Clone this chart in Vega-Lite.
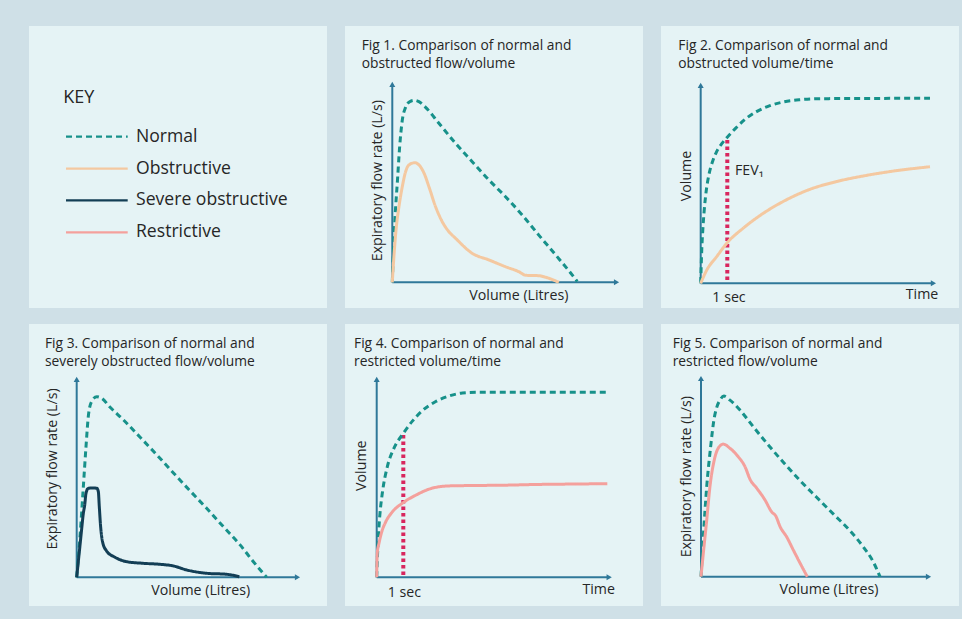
{
  "$schema": "https://vega.github.io/schema/vega-lite/v6.json",
  "background": "#cfe0e7",
  "padding": {"left": 29, "top": 26, "right": 3, "bottom": 13},
  "config": {
    "view": {"fill": "#e5f3f5", "stroke": null},
    "font": "Open Sans",
    "legend": {"disable": true},
    "text": {"color": "#262626"}
  },
  "datasets": {
    "key": [
      {"series": "Normal"},
      {"series": "Obstructive"},
      {"series": "Severe obstructive"},
      {"series": "Restrictive"}
    ],
    "fig1": [
      {"series": "Normal", "volume": 0, "flow": 0},
      {"series": "Normal", "volume": 0.03, "flow": 1.45},
      {"series": "Normal", "volume": 0.07, "flow": 3.1},
      {"series": "Normal", "volume": 0.14, "flow": 5.1},
      {"series": "Normal", "volume": 0.2, "flow": 6.8},
      {"series": "Normal", "volume": 0.27, "flow": 8.1},
      {"series": "Normal", "volume": 0.36, "flow": 8.75},
      {"series": "Normal", "volume": 0.47, "flow": 9.03},
      {"series": "Normal", "volume": 0.59, "flow": 9.1},
      {"series": "Normal", "volume": 0.72, "flow": 9.03},
      {"series": "Normal", "volume": 0.9, "flow": 8.75},
      {"series": "Normal", "volume": 1.26, "flow": 7.95},
      {"series": "Normal", "volume": 1.71, "flow": 6.95},
      {"series": "Normal", "volume": 2.16, "flow": 6.03},
      {"series": "Normal", "volume": 2.61, "flow": 5.12},
      {"series": "Normal", "volume": 3.06, "flow": 4.28},
      {"series": "Normal", "volume": 3.51, "flow": 3.37},
      {"series": "Normal", "volume": 3.96, "flow": 2.36},
      {"series": "Normal", "volume": 4.42, "flow": 1.36},
      {"series": "Normal", "volume": 4.78, "flow": 0.56},
      {"series": "Normal", "volume": 5.0, "flow": 0.04},
      {"series": "Obstructive", "volume": 0, "flow": 0},
      {"series": "Obstructive", "volume": 0.05, "flow": 1.45},
      {"series": "Obstructive", "volume": 0.11, "flow": 2.78},
      {"series": "Obstructive", "volume": 0.18, "flow": 3.78},
      {"series": "Obstructive", "volume": 0.27, "flow": 4.78},
      {"series": "Obstructive", "volume": 0.36, "flow": 5.53},
      {"series": "Obstructive", "volume": 0.45, "flow": 5.87},
      {"series": "Obstructive", "volume": 0.61, "flow": 5.98},
      {"series": "Obstructive", "volume": 0.72, "flow": 5.87},
      {"series": "Obstructive", "volume": 0.86, "flow": 5.45},
      {"series": "Obstructive", "volume": 0.99, "flow": 4.78},
      {"series": "Obstructive", "volume": 1.17, "flow": 3.78},
      {"series": "Obstructive", "volume": 1.35, "flow": 3.03},
      {"series": "Obstructive", "volume": 1.53, "flow": 2.53},
      {"series": "Obstructive", "volume": 1.71, "flow": 2.2},
      {"series": "Obstructive", "volume": 2.16, "flow": 1.45},
      {"series": "Obstructive", "volume": 2.61, "flow": 1.12},
      {"series": "Obstructive", "volume": 3.06, "flow": 0.78},
      {"series": "Obstructive", "volume": 3.42, "flow": 0.53},
      {"series": "Obstructive", "volume": 3.61, "flow": 0.35},
      {"series": "Obstructive", "volume": 3.96, "flow": 0.33},
      {"series": "Obstructive", "volume": 4.15, "flow": 0.25},
      {"series": "Obstructive", "volume": 4.5, "flow": 0}
    ],
    "fig2": [
      {"series": "Normal", "time": 0, "volume": 0},
      {"series": "Normal", "time": 0.04, "volume": 0.9},
      {"series": "Normal", "time": 0.08, "volume": 1.45},
      {"series": "Normal", "time": 0.13, "volume": 1.95},
      {"series": "Normal", "time": 0.2, "volume": 2.45},
      {"series": "Normal", "time": 0.3, "volume": 2.9},
      {"series": "Normal", "time": 0.45, "volume": 3.3},
      {"series": "Normal", "time": 0.6, "volume": 3.56},
      {"series": "Normal", "time": 0.8, "volume": 3.78},
      {"series": "Normal", "time": 1.0, "volume": 3.95},
      {"series": "Normal", "time": 1.3, "volume": 4.18},
      {"series": "Normal", "time": 1.7, "volume": 4.45},
      {"series": "Normal", "time": 2.1, "volume": 4.64},
      {"series": "Normal", "time": 2.6, "volume": 4.8},
      {"series": "Normal", "time": 3.1, "volume": 4.9},
      {"series": "Normal", "time": 3.7, "volume": 4.96},
      {"series": "Normal", "time": 4.6, "volume": 4.99},
      {"series": "Normal", "time": 8.62, "volume": 5.0},
      {"series": "Obstructive", "time": 0, "volume": 0},
      {"series": "Obstructive", "time": 0.23, "volume": 0.36},
      {"series": "Obstructive", "time": 0.6, "volume": 0.72},
      {"series": "Obstructive", "time": 1.0, "volume": 1.1},
      {"series": "Obstructive", "time": 1.6, "volume": 1.49},
      {"series": "Obstructive", "time": 2.35, "volume": 1.89},
      {"series": "Obstructive", "time": 3.1, "volume": 2.21},
      {"series": "Obstructive", "time": 4.11, "volume": 2.54},
      {"series": "Obstructive", "time": 5.11, "volume": 2.75},
      {"series": "Obstructive", "time": 6.11, "volume": 2.9},
      {"series": "Obstructive", "time": 7.12, "volume": 3.02},
      {"series": "Obstructive", "time": 8.62, "volume": 3.15}
    ],
    "fig3": [
      {"series": "Normal", "volume": 0, "flow": 0},
      {"series": "Normal", "volume": 0.087, "flow": 2.03},
      {"series": "Normal", "volume": 0.175, "flow": 4.53},
      {"series": "Normal", "volume": 0.245, "flow": 6.53},
      {"series": "Normal", "volume": 0.305, "flow": 8.03},
      {"series": "Normal", "volume": 0.39, "flow": 8.78},
      {"series": "Normal", "volume": 0.53, "flow": 9.03},
      {"series": "Normal", "volume": 0.66, "flow": 8.95},
      {"series": "Normal", "volume": 0.88, "flow": 8.5},
      {"series": "Normal", "volume": 1.23, "flow": 7.87},
      {"series": "Normal", "volume": 1.67, "flow": 7.0},
      {"series": "Normal", "volume": 2.11, "flow": 6.12},
      {"series": "Normal", "volume": 2.54, "flow": 5.23},
      {"series": "Normal", "volume": 2.98, "flow": 4.33},
      {"series": "Normal", "volume": 3.42, "flow": 3.45},
      {"series": "Normal", "volume": 3.86, "flow": 2.53},
      {"series": "Normal", "volume": 4.3, "flow": 1.62},
      {"series": "Normal", "volume": 4.65, "flow": 0.78},
      {"series": "Normal", "volume": 5.0, "flow": 0},
      {"series": "Severe obstructive", "volume": 0, "flow": 0},
      {"series": "Severe obstructive", "volume": 0.087, "flow": 1.6},
      {"series": "Severe obstructive", "volume": 0.13, "flow": 2.4},
      {"series": "Severe obstructive", "volume": 0.175, "flow": 3.2},
      {"series": "Severe obstructive", "volume": 0.21, "flow": 3.6},
      {"series": "Severe obstructive", "volume": 0.245, "flow": 4.2},
      {"series": "Severe obstructive", "volume": 0.305, "flow": 4.45},
      {"series": "Severe obstructive", "volume": 0.42, "flow": 4.47},
      {"series": "Severe obstructive", "volume": 0.53, "flow": 4.45},
      {"series": "Severe obstructive", "volume": 0.57, "flow": 4.28},
      {"series": "Severe obstructive", "volume": 0.595, "flow": 3.53},
      {"series": "Severe obstructive", "volume": 0.63, "flow": 2.53},
      {"series": "Severe obstructive", "volume": 0.68, "flow": 1.78},
      {"series": "Severe obstructive", "volume": 0.785, "flow": 1.32},
      {"series": "Severe obstructive", "volume": 1.01, "flow": 1.0},
      {"series": "Severe obstructive", "volume": 1.32, "flow": 0.78},
      {"series": "Severe obstructive", "volume": 1.75, "flow": 0.7},
      {"series": "Severe obstructive", "volume": 2.19, "flow": 0.65},
      {"series": "Severe obstructive", "volume": 2.54, "flow": 0.57},
      {"series": "Severe obstructive", "volume": 2.89, "flow": 0.37},
      {"series": "Severe obstructive", "volume": 3.42, "flow": 0.2},
      {"series": "Severe obstructive", "volume": 3.95, "flow": 0.15},
      {"series": "Severe obstructive", "volume": 4.28, "flow": 0.03}
    ],
    "fig4": [
      {"series": "Normal", "time": 0, "volume": 0},
      {"series": "Normal", "time": 0.03, "volume": 0.6},
      {"series": "Normal", "time": 0.07, "volume": 1.2},
      {"series": "Normal", "time": 0.12, "volume": 1.7},
      {"series": "Normal", "time": 0.21, "volume": 2.27},
      {"series": "Normal", "time": 0.4, "volume": 2.99},
      {"series": "Normal", "time": 0.65, "volume": 3.49},
      {"series": "Normal", "time": 1.0, "volume": 3.89},
      {"series": "Normal", "time": 1.34, "volume": 4.22},
      {"series": "Normal", "time": 1.71, "volume": 4.5},
      {"series": "Normal", "time": 2.22, "volume": 4.75},
      {"series": "Normal", "time": 2.72, "volume": 4.9},
      {"series": "Normal", "time": 3.22, "volume": 4.98},
      {"series": "Normal", "time": 3.85, "volume": 5.0},
      {"series": "Normal", "time": 8.67, "volume": 5.0},
      {"series": "Restrictive", "time": 0, "volume": 0},
      {"series": "Restrictive", "time": 0.02, "volume": 0.65},
      {"series": "Restrictive", "time": 0.086, "volume": 0.92},
      {"series": "Restrictive", "time": 0.19, "volume": 1.23},
      {"series": "Restrictive", "time": 0.34, "volume": 1.5},
      {"series": "Restrictive", "time": 0.59, "volume": 1.77},
      {"series": "Restrictive", "time": 1.0, "volume": 2.02},
      {"series": "Restrictive", "time": 1.47, "volume": 2.22},
      {"series": "Restrictive", "time": 2.09, "volume": 2.41},
      {"series": "Restrictive", "time": 2.72, "volume": 2.47},
      {"series": "Restrictive", "time": 3.59, "volume": 2.48},
      {"series": "Restrictive", "time": 4.85, "volume": 2.49},
      {"series": "Restrictive", "time": 6.1, "volume": 2.51},
      {"series": "Restrictive", "time": 7.35, "volume": 2.52},
      {"series": "Restrictive", "time": 8.67, "volume": 2.53}
    ],
    "fig5": [
      {"series": "Normal", "volume": 0, "flow": 0},
      {"series": "Normal", "volume": 0.065, "flow": 2.0},
      {"series": "Normal", "volume": 0.16, "flow": 4.5},
      {"series": "Normal", "volume": 0.27, "flow": 6.5},
      {"series": "Normal", "volume": 0.36, "flow": 7.83},
      {"series": "Normal", "volume": 0.44, "flow": 8.47},
      {"series": "Normal", "volume": 0.53, "flow": 8.83},
      {"series": "Normal", "volume": 0.64, "flow": 9.03},
      {"series": "Normal", "volume": 0.81, "flow": 8.83},
      {"series": "Normal", "volume": 1.09, "flow": 8.33},
      {"series": "Normal", "volume": 1.46, "flow": 7.5},
      {"series": "Normal", "volume": 1.84, "flow": 6.67},
      {"series": "Normal", "volume": 2.3, "flow": 5.72},
      {"series": "Normal", "volume": 2.77, "flow": 4.8},
      {"series": "Normal", "volume": 3.23, "flow": 3.97},
      {"series": "Normal", "volume": 3.7, "flow": 3.13},
      {"series": "Normal", "volume": 4.16, "flow": 2.3},
      {"series": "Normal", "volume": 4.53, "flow": 1.5},
      {"series": "Normal", "volume": 4.81, "flow": 0.75},
      {"series": "Normal", "volume": 5.0, "flow": 0},
      {"series": "Restrictive", "volume": 0, "flow": 0},
      {"series": "Restrictive", "volume": 0.065, "flow": 1.17},
      {"series": "Restrictive", "volume": 0.16, "flow": 2.83},
      {"series": "Restrictive", "volume": 0.25, "flow": 4.5},
      {"series": "Restrictive", "volume": 0.37, "flow": 5.83},
      {"series": "Restrictive", "volume": 0.48, "flow": 6.42},
      {"series": "Restrictive", "volume": 0.62, "flow": 6.63},
      {"series": "Restrictive", "volume": 0.81, "flow": 6.42},
      {"series": "Restrictive", "volume": 1.04, "flow": 6.0},
      {"series": "Restrictive", "volume": 1.23, "flow": 5.5},
      {"series": "Restrictive", "volume": 1.37, "flow": 4.87},
      {"series": "Restrictive", "volume": 1.56, "flow": 4.42},
      {"series": "Restrictive", "volume": 1.79, "flow": 3.83},
      {"series": "Restrictive", "volume": 1.97, "flow": 3.25},
      {"series": "Restrictive", "volume": 2.09, "flow": 3.03},
      {"series": "Restrictive", "volume": 2.21, "flow": 2.5},
      {"series": "Restrictive", "volume": 2.39, "flow": 2.0},
      {"series": "Restrictive", "volume": 2.58, "flow": 1.33},
      {"series": "Restrictive", "volume": 2.77, "flow": 0.67},
      {"series": "Restrictive", "volume": 2.97, "flow": 0}
    ]
  },
  "vconcat": [
    {
      "hconcat": [
        {
          "width": 298, "height": 282,
          "layer": [
            {"data": {"values": [{}]}, "mark": {"type": "text", "text": "KEY", "align": "left", "baseline": "middle", "fontSize": 18, "dy": -6.5},
             "encoding": {"x": {"datum": 1.151, "type": "quantitative", "scale": {"domain": [0, 10], "nice": false, "zero": false}, "axis": null},
                          "y": {"datum": "KEY", "type": "nominal", "scale": {"domain": ["KEY", "Normal", "Obstructive", "Severe obstructive", "Restrictive"], "range": [62.85, 222.25]}, "axis": null}}},
            {"data": {"name": "key"}, "mark": {"type": "rule", "strokeWidth": 2.2},
             "encoding": {"x": {"datum": 1.242, "type": "quantitative", "axis": null}, "x2": {"datum": 3.312},
                          "y": {"field": "series", "type": "nominal", "axis": null},
                          "color": {"field": "series", "type": "nominal", "scale": {"domain": ["Normal", "Obstructive", "Severe obstructive", "Restrictive"], "range": ["#17918a", "#f4c8a0", "#133e55", "#f4a09c"]}, "legend": null},
                          "strokeDash": {"field": "series", "type": "nominal", "scale": {"domain": ["Normal", "Obstructive", "Severe obstructive", "Restrictive"], "range": [[6, 4], [1, 0], [1, 0], [1, 0]]}, "legend": null}}},
            {"data": {"name": "key"}, "mark": {"type": "text", "align": "left", "baseline": "middle", "fontSize": 17.6},
             "encoding": {"x": {"datum": 3.591, "type": "quantitative", "axis": null},
                          "y": {"field": "series", "type": "nominal", "axis": null},
                          "text": {"field": "series"}}}
          ]
        },
        {
          "width": 298, "height": 282,
          "layer": [
            {"data": {"values": [{}]}, "mark": {"type": "rule", "color": "#2f7899", "strokeWidth": 2},
             "encoding": {"x": {"datum": 0, "type": "quantitative", "scale": {"domain": [-1.278, 6.776], "nice": false, "zero": false}, "axis": null},
                          "y": {"datum": 0, "type": "quantitative", "scale": {"domain": [-1.285, 12.815], "nice": false, "zero": false}, "axis": null},
                          "x2": {"datum": 6.06}}},
            {"data": {"values": [{}]}, "mark": {"type": "rule", "color": "#2f7899", "strokeWidth": 2},
             "encoding": {"x": {"datum": 0, "axis": null}, "y": {"datum": 0, "axis": null}, "y2": {"datum": 9.9}}},
            {"data": {"values": [{}]}, "mark": {"type": "point", "shape": "triangle-right", "filled": true, "size": 36, "color": "#2f7899", "opacity": 1},
             "encoding": {"x": {"datum": 6.06, "axis": null}, "y": {"datum": 0, "axis": null}}},
            {"data": {"values": [{}]}, "mark": {"type": "point", "shape": "triangle-up", "filled": true, "size": 36, "color": "#2f7899", "opacity": 1},
             "encoding": {"x": {"datum": 0, "axis": null}, "y": {"datum": 9.9, "axis": null}}},
            {"data": {"name": "fig1"}, "mark": {"type": "line", "strokeWidth": 3, "interpolate": "monotone"},
             "encoding": {"x": {"field": "volume", "type": "quantitative", "axis": null},
                          "y": {"field": "flow", "type": "quantitative", "axis": null},
                          "color": {"field": "series", "type": "nominal", "scale": {"domain": ["Normal", "Obstructive", "Severe obstructive", "Restrictive"], "range": ["#17918a", "#f4c8a0", "#133e55", "#f4a09c"]}, "legend": null},
                          "strokeDash": {"field": "series", "type": "nominal", "scale": {"domain": ["Normal", "Obstructive", "Severe obstructive", "Restrictive"], "range": [[6, 4], [1, 0], [1, 0], [1, 0]]}, "legend": null}}},
            {"data": {"values": [{}]}, "mark": {"type": "text", "text": ["Fig 1. Comparison of normal and", "obstructed flow/volume"], "align": "left", "baseline": "top", "fontSize": 13.8, "lineHeight": 17.5},
             "encoding": {"x": {"datum": -0.827, "axis": null}, "y": {"datum": 12.16, "axis": null}}},
            {"data": {"values": [{}]}, "mark": {"type": "text", "text": "Expiratory flow rate (L/s)", "angle": 270, "align": "center", "baseline": "middle", "fontSize": 14.2},
             "encoding": {"x": {"datum": -0.378, "axis": null}, "y": {"datum": 5.08, "axis": null}}},
            {"data": {"values": [{}]}, "mark": {"type": "text", "text": "Volume (Litres)", "align": "center", "baseline": "middle", "fontSize": 14.2},
             "encoding": {"x": {"datum": 3.42, "axis": null}, "y": {"datum": -0.685, "axis": null}}}
          ]
        },
        {
          "width": 298, "height": 282,
          "layer": [
            {"data": {"values": [{}]}, "mark": {"type": "rule", "color": "#2f7899", "strokeWidth": 2},
             "encoding": {"x": {"datum": 0, "type": "quantitative", "scale": {"domain": [-1.492, 9.711], "nice": false, "zero": false}, "axis": null},
                          "y": {"datum": 0, "type": "quantitative", "scale": {"domain": [-0.668, 6.954], "nice": false, "zero": false}, "axis": null},
                          "x2": {"datum": 8.75}}},
            {"data": {"values": [{}]}, "mark": {"type": "rule", "color": "#2f7899", "strokeWidth": 2},
             "encoding": {"x": {"datum": 0, "axis": null}, "y": {"datum": 0, "axis": null}, "y2": {"datum": 5.35}}},
            {"data": {"values": [{}]}, "mark": {"type": "point", "shape": "triangle-right", "filled": true, "size": 36, "color": "#2f7899", "opacity": 1},
             "encoding": {"x": {"datum": 8.75, "axis": null}, "y": {"datum": 0, "axis": null}}},
            {"data": {"values": [{}]}, "mark": {"type": "point", "shape": "triangle-up", "filled": true, "size": 36, "color": "#2f7899", "opacity": 1},
             "encoding": {"x": {"datum": 0, "axis": null}, "y": {"datum": 5.35, "axis": null}}},
            {"data": {"values": [{}]}, "mark": {"type": "rule", "color": "#d8265e", "strokeWidth": 4, "strokeDash": [3.5, 3]},
             "encoding": {"x": {"datum": 1, "axis": null}, "y": {"datum": 0.09, "axis": null}, "y2": {"datum": 3.95}}},
            {"data": {"name": "fig2"}, "mark": {"type": "line", "strokeWidth": 3, "interpolate": "monotone"},
             "encoding": {"x": {"field": "time", "type": "quantitative", "axis": null},
                          "y": {"field": "volume", "type": "quantitative", "axis": null},
                          "color": {"field": "series", "type": "nominal", "scale": {"domain": ["Normal", "Obstructive", "Severe obstructive", "Restrictive"], "range": ["#17918a", "#f4c8a0", "#133e55", "#f4a09c"]}, "legend": null},
                          "strokeDash": {"field": "series", "type": "nominal", "scale": {"domain": ["Normal", "Obstructive", "Severe obstructive", "Restrictive"], "range": [[6, 4], [1, 0], [1, 0], [1, 0]]}, "legend": null}}},
            {"data": {"values": [{}]}, "mark": {"type": "text", "text": ["Fig 2. Comparison of normal and", "obstructed volume/time"], "align": "left", "baseline": "top", "fontSize": 13.8, "lineHeight": 17.5},
             "encoding": {"x": {"datum": -0.842, "axis": null}, "y": {"datum": 6.6, "axis": null}}},
            {"data": {"values": [{}]}, "mark": {"type": "text", "text": "Volume", "angle": 270, "align": "center", "baseline": "middle", "fontSize": 14.2},
             "encoding": {"x": {"datum": -0.526, "axis": null}, "y": {"datum": 2.9, "axis": null}}},
            {"data": {"values": [{}]}, "mark": {"type": "text", "text": "1 sec", "align": "center", "baseline": "middle", "fontSize": 14.2},
             "encoding": {"x": {"datum": 1.064, "axis": null}, "y": {"datum": -0.405, "axis": null}}},
            {"data": {"values": [{}]}, "mark": {"type": "text", "text": "Time", "align": "center", "baseline": "middle", "fontSize": 14.2},
             "encoding": {"x": {"datum": 8.32, "axis": null}, "y": {"datum": -0.316, "axis": null}}},
            {"data": {"values": [{}]}, "mark": {"type": "text", "text": "FEV₁", "align": "left", "baseline": "middle", "fontSize": 14.2},
             "encoding": {"x": {"datum": 1.29, "axis": null}, "y": {"datum": 3.04, "axis": null}}}
          ]
        }
      ],
      "spacing": 18
    },
    {
      "hconcat": [
        {
          "width": 298, "height": 282,
          "layer": [
            {"data": {"values": [{}]}, "mark": {"type": "rule", "color": "#2f7899", "strokeWidth": 2},
             "encoding": {"x": {"datum": 0, "type": "quantitative", "scale": {"domain": [-1.255, 6.587], "nice": false, "zero": false}, "axis": null},
                          "y": {"datum": 0, "type": "quantitative", "scale": {"domain": [-1.435, 12.665], "nice": false, "zero": false}, "axis": null},
                          "x2": {"datum": 5.81}}},
            {"data": {"values": [{}]}, "mark": {"type": "rule", "color": "#2f7899", "strokeWidth": 2},
             "encoding": {"x": {"datum": 0, "axis": null}, "y": {"datum": 0, "axis": null}, "y2": {"datum": 9.9}}},
            {"data": {"values": [{}]}, "mark": {"type": "point", "shape": "triangle-right", "filled": true, "size": 36, "color": "#2f7899", "opacity": 1},
             "encoding": {"x": {"datum": 5.81, "axis": null}, "y": {"datum": 0, "axis": null}}},
            {"data": {"values": [{}]}, "mark": {"type": "point", "shape": "triangle-up", "filled": true, "size": 36, "color": "#2f7899", "opacity": 1},
             "encoding": {"x": {"datum": 0, "axis": null}, "y": {"datum": 9.9, "axis": null}}},
            {"data": {"name": "fig3"}, "mark": {"type": "line", "strokeWidth": 3, "interpolate": "monotone"},
             "encoding": {"x": {"field": "volume", "type": "quantitative", "axis": null},
                          "y": {"field": "flow", "type": "quantitative", "axis": null},
                          "color": {"field": "series", "type": "nominal", "scale": {"domain": ["Normal", "Obstructive", "Severe obstructive", "Restrictive"], "range": ["#17918a", "#f4c8a0", "#133e55", "#f4a09c"]}, "legend": null},
                          "strokeDash": {"field": "series", "type": "nominal", "scale": {"domain": ["Normal", "Obstructive", "Severe obstructive", "Restrictive"], "range": [[6, 4], [1, 0], [1, 0], [1, 0]]}, "legend": null}}},
            {"data": {"values": [{}]}, "mark": {"type": "text", "text": ["Fig 3. Comparison of normal and", "severely obstructed flow/volume"], "align": "left", "baseline": "top", "fontSize": 13.8, "lineHeight": 17.5},
             "encoding": {"x": {"datum": -0.834, "axis": null}, "y": {"datum": 11.995, "axis": null}}},
            {"data": {"values": [{}]}, "mark": {"type": "text", "text": "Expiratory flow rate (L/s)", "angle": 270, "align": "center", "baseline": "middle", "fontSize": 14.2},
             "encoding": {"x": {"datum": -0.616, "axis": null}, "y": {"datum": 5.415, "axis": null}}},
            {"data": {"values": [{}]}, "mark": {"type": "text", "text": "Volume (Litres)", "align": "center", "baseline": "middle", "fontSize": 14.2},
             "encoding": {"x": {"datum": 3.263, "axis": null}, "y": {"datum": -0.67, "axis": null}}}
          ]
        },
        {
          "width": 298, "height": 282,
          "layer": [
            {"data": {"values": [{}]}, "mark": {"type": "rule", "color": "#2f7899", "strokeWidth": 2},
             "encoding": {"x": {"datum": 0, "type": "quantitative", "scale": {"domain": [-1.192, 10.011], "nice": false, "zero": false}, "axis": null},
                          "y": {"datum": 0, "type": "quantitative", "scale": {"domain": [-0.776, 6.846], "nice": false, "zero": false}, "axis": null},
                          "x2": {"datum": 8.74}}},
            {"data": {"values": [{}]}, "mark": {"type": "rule", "color": "#2f7899", "strokeWidth": 2},
             "encoding": {"x": {"datum": 0, "axis": null}, "y": {"datum": 0, "axis": null}, "y2": {"datum": 5.35}}},
            {"data": {"values": [{}]}, "mark": {"type": "point", "shape": "triangle-right", "filled": true, "size": 36, "color": "#2f7899", "opacity": 1},
             "encoding": {"x": {"datum": 8.74, "axis": null}, "y": {"datum": 0, "axis": null}}},
            {"data": {"values": [{}]}, "mark": {"type": "point", "shape": "triangle-up", "filled": true, "size": 36, "color": "#2f7899", "opacity": 1},
             "encoding": {"x": {"datum": 0, "axis": null}, "y": {"datum": 5.35, "axis": null}}},
            {"data": {"values": [{}]}, "mark": {"type": "rule", "color": "#d8265e", "strokeWidth": 4, "strokeDash": [3.5, 3]},
             "encoding": {"x": {"datum": 1, "axis": null}, "y": {"datum": 0.06, "axis": null}, "y2": {"datum": 3.89}}},
            {"data": {"name": "fig4"}, "mark": {"type": "line", "strokeWidth": 3, "interpolate": "monotone"},
             "encoding": {"x": {"field": "time", "type": "quantitative", "axis": null},
                          "y": {"field": "volume", "type": "quantitative", "axis": null},
                          "color": {"field": "series", "type": "nominal", "scale": {"domain": ["Normal", "Obstructive", "Severe obstructive", "Restrictive"], "range": ["#17918a", "#f4c8a0", "#133e55", "#f4a09c"]}, "legend": null},
                          "strokeDash": {"field": "series", "type": "nominal", "scale": {"domain": ["Normal", "Obstructive", "Severe obstructive", "Restrictive"], "range": [[6, 4], [1, 0], [1, 0], [1, 0]]}, "legend": null}}},
            {"data": {"values": [{}]}, "mark": {"type": "text", "text": ["Fig 4. Comparison of normal and", "restricted volume/time"], "align": "left", "baseline": "top", "fontSize": 13.8, "lineHeight": 17.5},
             "encoding": {"x": {"datum": -0.853, "axis": null}, "y": {"datum": 6.484, "axis": null}}},
            {"data": {"values": [{}]}, "mark": {"type": "text", "text": "Volume", "angle": 270, "align": "center", "baseline": "middle", "fontSize": 14.2},
             "encoding": {"x": {"datum": -0.541, "axis": null}, "y": {"datum": 3.016, "axis": null}}},
            {"data": {"values": [{}]}, "mark": {"type": "text", "text": "1 sec", "align": "center", "baseline": "middle", "fontSize": 14.2},
             "encoding": {"x": {"datum": 1.038, "axis": null}, "y": {"datum": -0.416, "axis": null}}},
            {"data": {"values": [{}]}, "mark": {"type": "text", "text": "Time", "align": "center", "baseline": "middle", "fontSize": 14.2},
             "encoding": {"x": {"datum": 8.346, "axis": null}, "y": {"datum": -0.343, "axis": null}}}
          ]
        },
        {
          "width": 298, "height": 282,
          "layer": [
            {"data": {"values": [{}]}, "mark": {"type": "rule", "color": "#2f7899", "strokeWidth": 2},
             "encoding": {"x": {"datum": 0, "type": "quantitative", "scale": {"domain": [-1.117, 7.207], "nice": false, "zero": false}, "axis": null},
                          "y": {"datum": 0, "type": "quantitative", "scale": {"domain": [-1.465, 12.635], "nice": false, "zero": false}, "axis": null},
                          "x2": {"datum": 6.355}}},
            {"data": {"values": [{}]}, "mark": {"type": "rule", "color": "#2f7899", "strokeWidth": 2},
             "encoding": {"x": {"datum": 0, "axis": null}, "y": {"datum": 0, "axis": null}, "y2": {"datum": 9.91}}},
            {"data": {"values": [{}]}, "mark": {"type": "point", "shape": "triangle-right", "filled": true, "size": 36, "color": "#2f7899", "opacity": 1},
             "encoding": {"x": {"datum": 6.355, "axis": null}, "y": {"datum": 0, "axis": null}}},
            {"data": {"values": [{}]}, "mark": {"type": "point", "shape": "triangle-up", "filled": true, "size": 36, "color": "#2f7899", "opacity": 1},
             "encoding": {"x": {"datum": 0, "axis": null}, "y": {"datum": 9.91, "axis": null}}},
            {"data": {"name": "fig5"}, "mark": {"type": "line", "strokeWidth": 3, "interpolate": "monotone"},
             "encoding": {"x": {"field": "volume", "type": "quantitative", "axis": null},
                          "y": {"field": "flow", "type": "quantitative", "axis": null},
                          "color": {"field": "series", "type": "nominal", "scale": {"domain": ["Normal", "Obstructive", "Severe obstructive", "Restrictive"], "range": ["#17918a", "#f4c8a0", "#133e55", "#f4a09c"]}, "legend": null},
                          "strokeDash": {"field": "series", "type": "nominal", "scale": {"domain": ["Normal", "Obstructive", "Severe obstructive", "Restrictive"], "range": [[6, 4], [1, 0], [1, 0], [1, 0]]}, "legend": null}}},
            {"data": {"values": [{}]}, "mark": {"type": "text", "text": ["Fig 5. Comparison of normal and", "restricted flow/volume"], "align": "left", "baseline": "top", "fontSize": 13.8, "lineHeight": 17.5},
             "encoding": {"x": {"datum": -0.79, "axis": null}, "y": {"datum": 11.965, "axis": null}}},
            {"data": {"values": [{}]}, "mark": {"type": "text", "text": "Expiratory flow rate (L/s)", "angle": 270, "align": "center", "baseline": "middle", "fontSize": 14.2},
             "encoding": {"x": {"datum": -0.4, "axis": null}, "y": {"datum": 5.0, "axis": null}}},
            {"data": {"values": [{}]}, "mark": {"type": "text", "text": "Volume (Litres)", "align": "center", "baseline": "middle", "fontSize": 14.2},
             "encoding": {"x": {"datum": 3.575, "axis": null}, "y": {"datum": -0.665, "axis": null}}}
          ]
        }
      ],
      "spacing": 18
    }
  ],
  "spacing": 16
}
